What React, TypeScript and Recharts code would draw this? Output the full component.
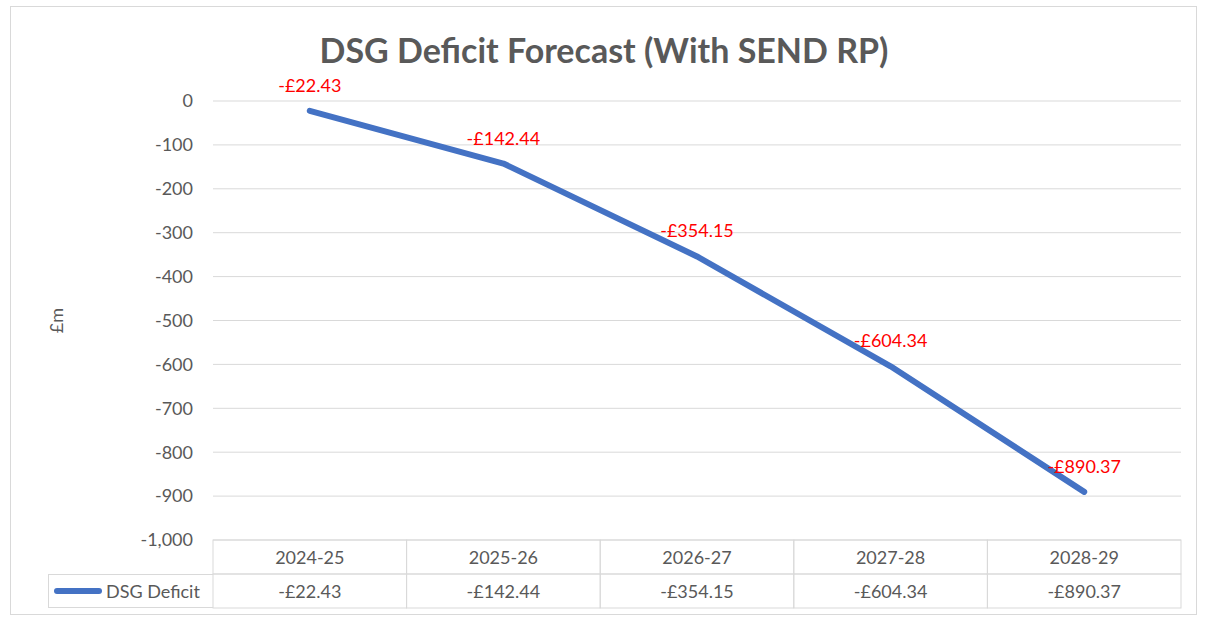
import React from 'react';
import {
  LineChart,
  Line,
  XAxis,
  YAxis,
  CartesianGrid,
  LabelList,
  Legend,
} from 'recharts';

const categories = ['2024-25', '2025-26', '2026-27', '2027-28', '2028-29'];
const deficit = [-22.43, -142.44, -354.15, -604.34, -890.37];
const yTicks = [0, -100, -200, -300, -400, -500, -600, -700, -800, -900, -1000];

const data = categories.map((year, i) => ({ year, value: deficit[i] }));

const W = 1208;
const H = 619;
const PLOT_LEFT = 213;
const PLOT_RIGHT = 27;
const BAND = (W - PLOT_LEFT - PLOT_RIGHT) / categories.length;
const ROW = 34;
const GRID = '#d9d9d9';
const TEXT = '#595959';
const FONT = 'Lato, "Open Sans", sans-serif';

const money = (v: number) => `-£${Math.abs(v).toFixed(2)}`;
const thousands = (v: number) => v.toLocaleString('en-GB');

function TableTick(props: any) {
  const { x, y, payload, index } = props;
  const left = x - BAND / 2;
  return (
    <g>
      <rect x={left} y={y} width={BAND} height={ROW} fill="none" stroke={GRID} />
      <rect x={left} y={y + ROW} width={BAND} height={ROW} fill="none" stroke={GRID} />
      <text x={x} y={y + ROW / 2} textAnchor="middle" dominantBaseline="central" fill={TEXT} fontSize={18} fontFamily={FONT}>
        {payload.value}
      </text>
      <text x={x} y={y + ROW * 1.5} textAnchor="middle" dominantBaseline="central" fill={TEXT} fontSize={18} fontFamily={FONT}>
        {money(deficit[index])}
      </text>
    </g>
  );
}

function YLabel(props: any) {
  const { viewBox } = props;
  const cx = 56;
  const cy = viewBox.y + viewBox.height / 2;
  return (
    <text x={cx} y={cy} transform={`rotate(-90, ${cx}, ${cy})`} textAnchor="middle" dominantBaseline="central" fill={TEXT} fontSize={18} fontFamily={FONT}>
      £m
    </text>
  );
}

function LegendCell(props: any) {
  const item = props.payload?.[0];
  return (
    <div
      style={{
        width: PLOT_LEFT - 48,
        height: ROW,
        boxSizing: 'border-box',
        border: `1px solid ${GRID}`,
        borderRight: 'none',
        display: 'flex',
        alignItems: 'center',
        fontFamily: FONT,
        fontSize: 18,
        color: TEXT,
      }}
    >
      <span style={{ display: 'inline-block', width: 48, height: 6, borderRadius: 3, background: item?.color ?? '#4472C4', marginLeft: 5, marginRight: 4 }} />
      {item?.value}
    </div>
  );
}

export default function App() {
  return (
    <div style={{ position: 'absolute', left: 0, top: 0, width: W, height: H, background: '#fff' }}>
      <div style={{ position: 'absolute', left: 10, top: 6, width: 1187, height: 609, border: `1px solid ${GRID}`, boxSizing: 'border-box' }} />
      <div
        style={{
          position: 'absolute',
          left: 0,
          top: 29,
          width: W,
          textAlign: 'center',
          fontFamily: FONT,
          fontWeight: 700,
          fontSize: 34,
          color: TEXT,
          lineHeight: '42px',
        }}
      >
        DSG Deficit Forecast (With SEND RP)
      </div>
      <LineChart width={W} height={H} data={data} margin={{ top: 101, right: PLOT_RIGHT, bottom: 11, left: 53 }}>
        <CartesianGrid vertical={false} stroke={GRID} />
        <XAxis
          dataKey="year"
          scale="band"
          height={68}
          axisLine={false}
          tickLine={false}
          tickSize={0}
          tickMargin={0}
          tick={<TableTick />}
          interval={0}
        />
        <YAxis
          width={160}
          domain={[-1000, 0]}
          ticks={yTicks}
          tickFormatter={thousands}
          axisLine={false}
          tickLine={false}
          tickSize={0}
          tickMargin={20}
          tick={{ fill: TEXT, fontSize: 18, fontFamily: FONT }}
          label={<YLabel />}
        />
        <Legend
          layout="horizontal"
          verticalAlign="middle"
          align="center"
          content={<LegendCell />}
          wrapperStyle={{ left: 48, top: 540 + ROW, width: PLOT_LEFT - 48, height: ROW }}
        />
        <Line
          type="linear"
          dataKey="value"
          name="DSG Deficit"
          stroke="#4472C4"
          strokeWidth={6}
          strokeLinecap="round"
          strokeLinejoin="round"
          dot={false}
          activeDot={false}
          isAnimationActive={false}
        >
          <LabelList
            dataKey="value"
            position="top"
            offset={19}
            formatter={(v: any) => money(Number(v))}
            fill="#FF0000"
            fontSize={18}
            fontFamily={FONT}
          />
        </Line>
      </LineChart>
    </div>
  );
}
